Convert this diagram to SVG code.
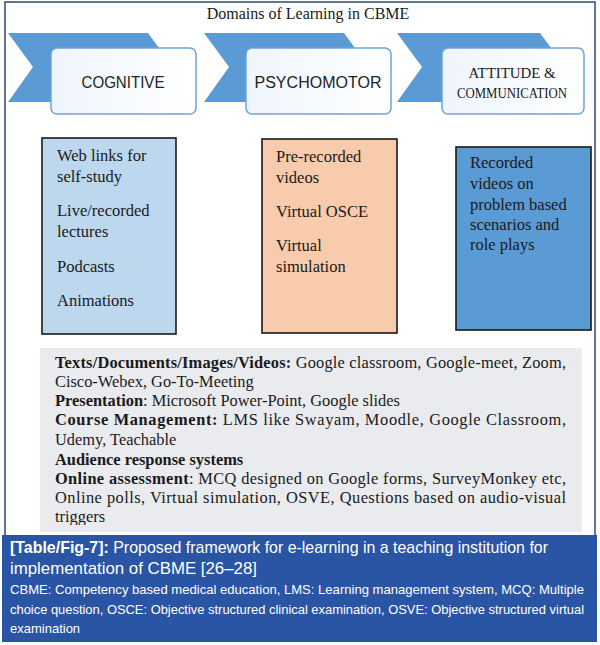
<svg xmlns="http://www.w3.org/2000/svg" width="600" height="645" viewBox="0 0 600 645">
<style>
.serif{font-family:"Liberation Serif","Times New Roman",serif;fill:#1a1a1a}
.sans{font-family:"Liberation Sans",Arial,sans-serif}
.chev{fill:#5b9bd5}
.hbox{fill:url(#hg);stroke:#6fa3d8;stroke-width:1.5}
.box{stroke:#1a1a1a;stroke-width:1.6}
.bt{font-size:16.5px}
.gt{font-size:16.4px}
.b{font-weight:bold}
.cap{fill:#ffffff}
</style>
<defs>
<linearGradient id="hg" x1="0" y1="0" x2="1" y2="0">
<stop offset="0" stop-color="#eef5fc"/>
<stop offset="1" stop-color="#ffffff"/>
</linearGradient>
<clipPath id="gclip"><rect x="40" y="348" width="542" height="177"/></clipPath>
</defs>
<rect x="0" y="0" width="600" height="645" fill="#ffffff"/>
<rect x="5" y="2" width="590" height="535" fill="none" stroke="#2b4a7a" stroke-width="1.5"/>
<text class="serif" x="308" y="19" font-size="16" text-anchor="middle">Domains of Learning in CBME</text>

<g id="head-cognitive">
<path class="chev" d="M8,33 H148 L173,67 L148,102 H8 L33,67 Z"/>
<rect class="hbox" x="51" y="48" width="145" height="66" rx="6"/>
<text class="sans" x="123" y="88" font-size="16" text-anchor="middle" fill="#222" textLength="83" lengthAdjust="spacingAndGlyphs">COGNITIVE</text>
</g>
<g id="head-psychomotor">
<path class="chev" d="M204,33 H344 L369,67 L344,102 H204 L229,67 Z"/>
<rect class="hbox" x="246" y="48" width="145" height="66" rx="6"/>
<text class="sans" x="318" y="88" font-size="16" text-anchor="middle" fill="#222" textLength="127" lengthAdjust="spacingAndGlyphs">PSYCHOMOTOR</text>
</g>
<g id="head-attitude">
<path class="chev" d="M397,33 H540 L565,67 L540,102 H397 L422,67 Z"/>
<rect class="hbox" x="442" y="48" width="142" height="66" rx="6"/>
<text class="serif" x="512" y="78" font-size="14" text-anchor="middle" textLength="87" lengthAdjust="spacingAndGlyphs">ATTITUDE &amp;</text>
<text class="serif" x="512" y="98" font-size="14" text-anchor="middle" textLength="110" lengthAdjust="spacingAndGlyphs">COMMUNICATION</text>
</g>

<g id="box-cognitive">
<rect class="box" x="42" y="138" width="134" height="196" fill="#bdd7ee"/>
<text class="serif bt" x="57" y="161">Web links for</text>
<text class="serif bt" x="57" y="182">self-study</text>
<text class="serif bt" x="57" y="216">Live/recorded</text>
<text class="serif bt" x="57" y="237">lectures</text>
<text class="serif bt" x="57" y="272">Podcasts</text>
<text class="serif bt" x="57" y="306">Animations</text>
</g>
<g id="box-psychomotor">
<rect class="box" x="262" y="139" width="135" height="194" fill="#f8cbad"/>
<text class="serif bt" x="276" y="162">Pre-recorded</text>
<text class="serif bt" x="276" y="183">videos</text>
<text class="serif bt" x="276" y="217">Virtual OSCE</text>
<text class="serif bt" x="276" y="251">Virtual</text>
<text class="serif bt" x="276" y="272">simulation</text>
</g>
<g id="box-attitude">
<rect class="box" x="456" y="147" width="135" height="183" fill="#5b9bd5"/>
<text class="serif bt" x="470" y="168">Recorded</text>
<text class="serif bt" x="470" y="189">videos on</text>
<text class="serif bt" x="470" y="210">problem based</text>
<text class="serif bt" x="470" y="230">scenarios and</text>
<text class="serif bt" x="470" y="250">role plays</text>
</g>

<g id="tools">
<rect x="40" y="348" width="542" height="184" fill="#e9ebee"/>
<g clip-path="url(#gclip)">
<text class="serif gt" x="55" y="368" textLength="511" lengthAdjust="spacing"><tspan class="b">Texts/Documents/Images/Videos:</tspan> Google classroom, Google-meet, Zoom,</text>
<text class="serif gt" x="55" y="387">Cisco-Webex, Go-To-Meeting</text>
<text class="serif gt" x="55" y="406"><tspan class="b">Presentation</tspan>: Microsoft Power-Point, Google slides</text>
<text class="serif gt" x="55" y="425" textLength="511" lengthAdjust="spacing"><tspan class="b">Course Management:</tspan> LMS like Swayam, Moodle, Google Classroom,</text>
<text class="serif gt" x="55" y="445">Udemy, Teachable</text>
<text class="serif gt b" x="55" y="465">Audience response systems</text>
<text class="serif gt" x="55" y="484" textLength="511" lengthAdjust="spacing"><tspan class="b">Online assessment</tspan>: MCQ designed on Google forms, SurveyMonkey etc,</text>
<text class="serif gt" x="55" y="503" textLength="511" lengthAdjust="spacing">Online polls, Virtual simulation, OSVE, Questions based on audio-visual</text>
<text class="serif gt" x="55" y="522">triggers</text>
</g>
</g>

<g id="connectors"/>

<g id="caption">
<rect x="2" y="535" width="595" height="107" fill="#2a54a4"/>
<text class="sans cap" x="10" y="553" font-size="17" textLength="538" lengthAdjust="spacingAndGlyphs"><tspan font-weight="bold">[Table/Fig-7]:</tspan> Proposed framework for e-learning in a teaching institution for</text>
<text class="sans cap" x="10" y="574" font-size="17" textLength="247" lengthAdjust="spacingAndGlyphs">implementation of CBME [26–28]</text>
<text class="sans cap" x="10" y="594" font-size="13" textLength="574" lengthAdjust="spacingAndGlyphs">CBME: Competency based medical education, LMS: Learning management system, MCQ: Multiple</text>
<text class="sans cap" x="10" y="614" font-size="13" textLength="574" lengthAdjust="spacingAndGlyphs">choice question, OSCE: Objective structured clinical examination, OSVE: Objective structured virtual</text>
<text class="sans cap" x="10" y="633" font-size="13">examination</text>
</g>
</svg>
